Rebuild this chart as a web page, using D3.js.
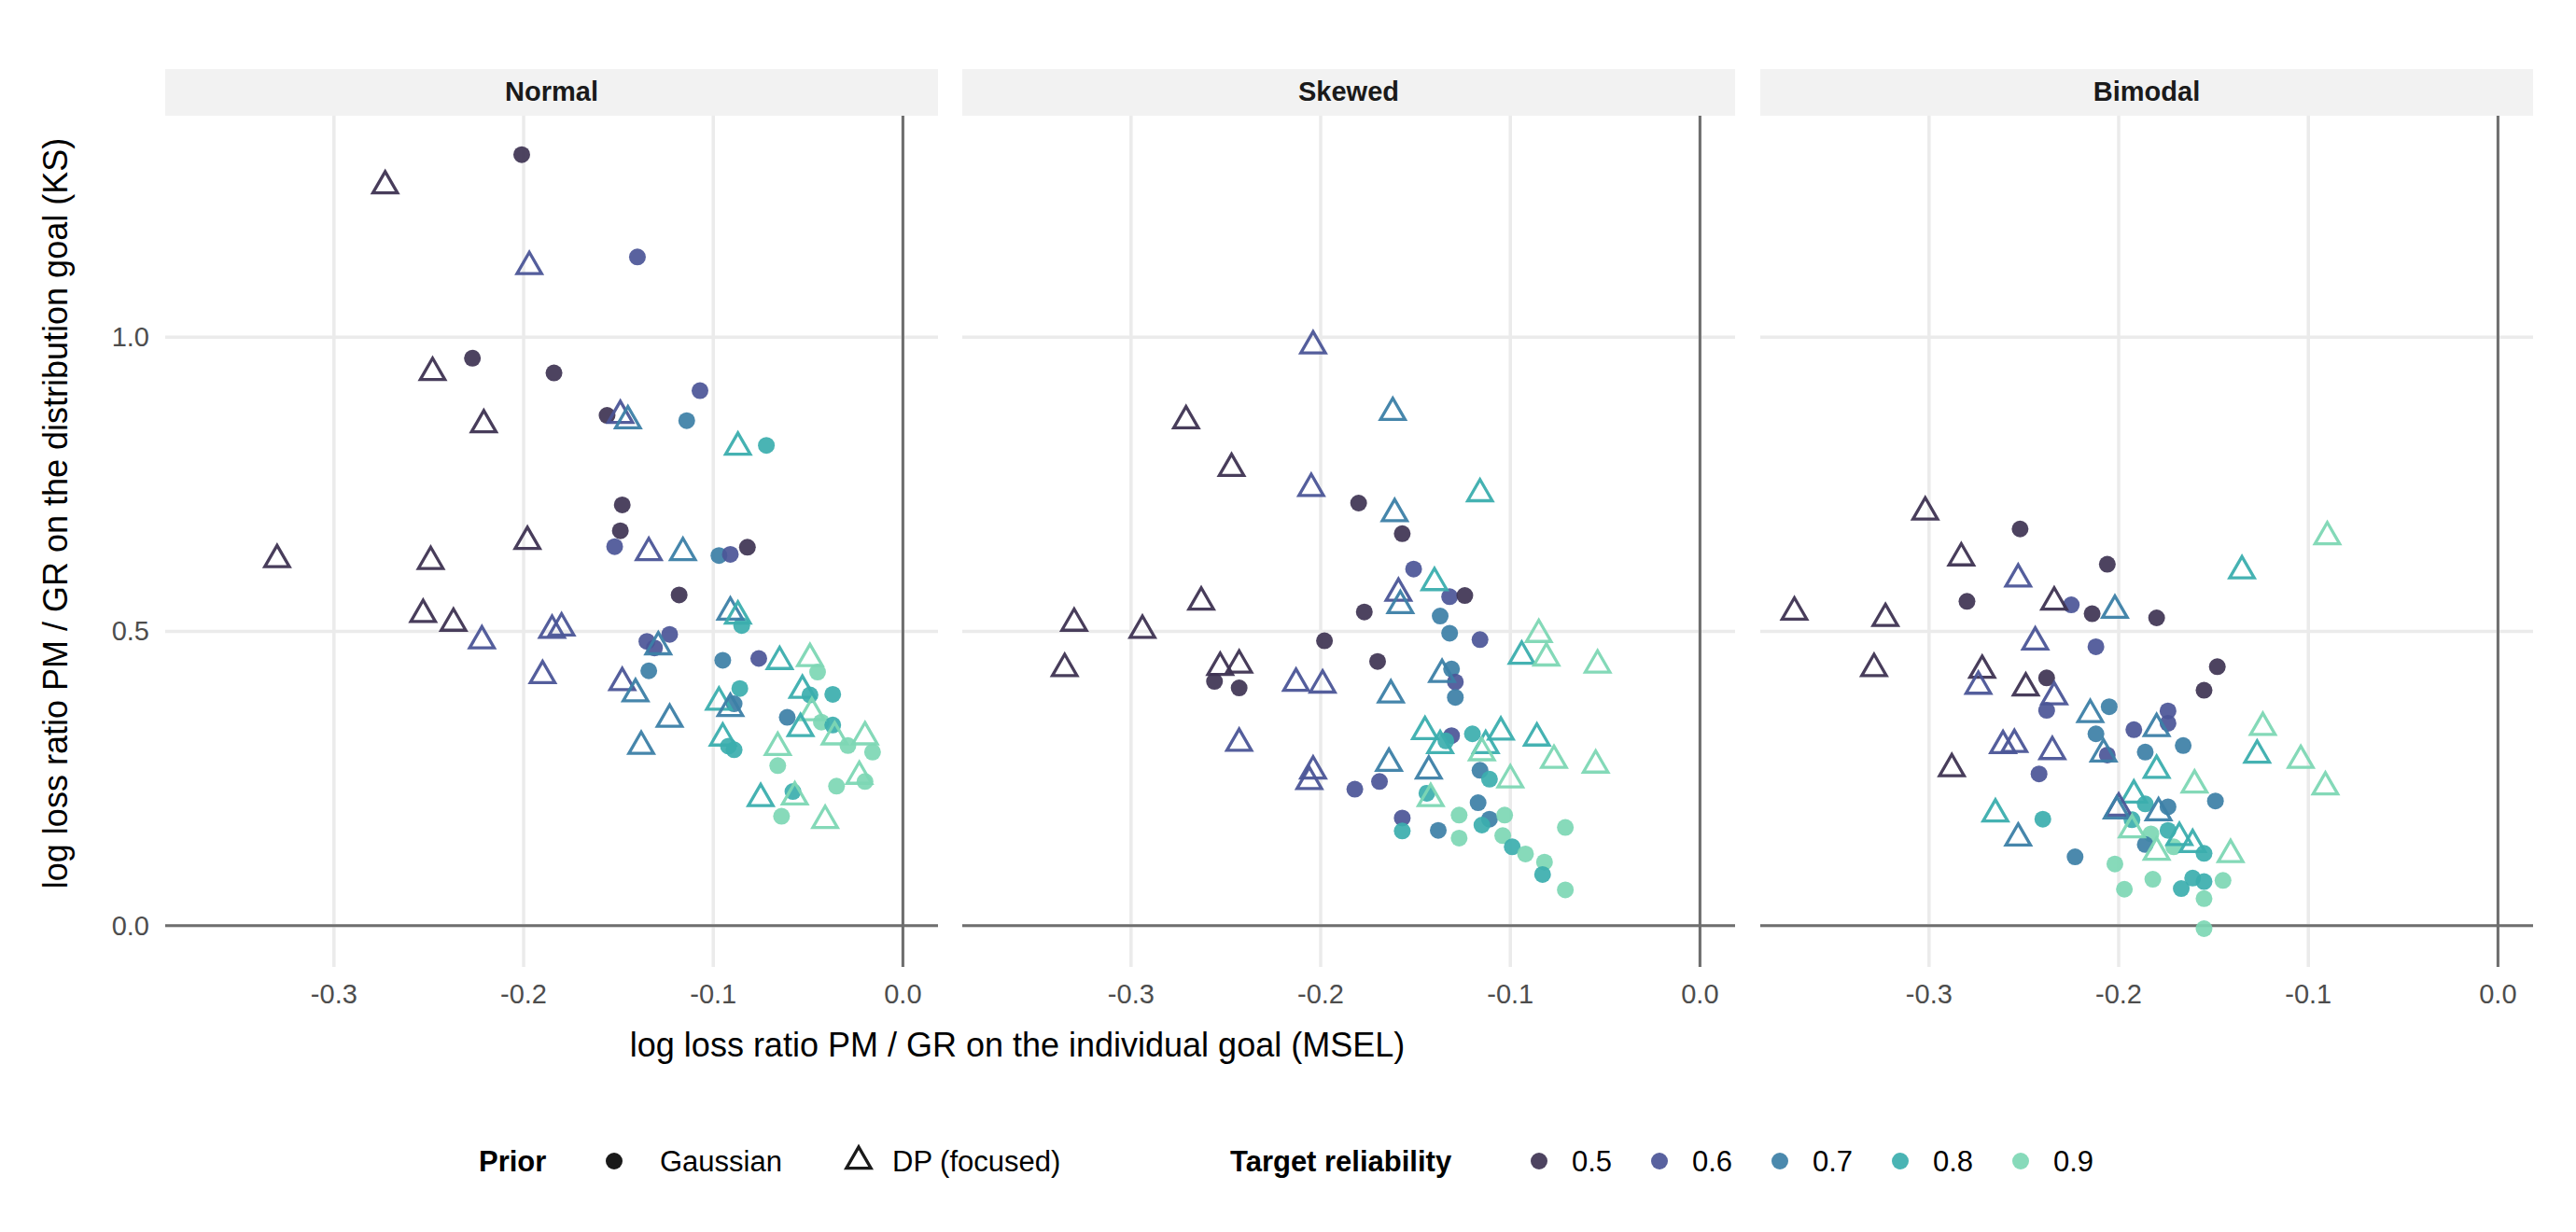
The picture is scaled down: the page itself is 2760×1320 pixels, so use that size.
<!DOCTYPE html>
<html><head><meta charset="utf-8">
<script src="https://cdn.jsdelivr.net/npm/d3@7"></script>
<style>body{margin:0;background:#fff}svg{font-family:"Liberation Sans",Arial,sans-serif}</style>
</head><body><svg id="c" width="2760" height="1320"></svg>
<script>
const panels = ["Normal","Skewed","Bimodal"];
const reliabilities = [0.5,0.6,0.7,0.8,0.9];
const relColors = ["#3E3352","#4B5597","#3C7FA6","#3BAEAE","#7DD7B4"];
const xTicks = [-0.3,-0.2,-0.1,0.0];
const yTicks = [0.0,0.5,1.0];
const priors = ["Gaussian","DP (focused)"];

// [x, y, reliability]
const normalGaussian = [[-0.201,1.310,0.5],[-0.140,1.136,0.6],[-0.227,0.964,0.5],[-0.184,0.939,0.5],[-0.107,0.909,0.6],[-0.156,0.867,0.5],[-0.114,0.858,0.7],[-0.072,0.816,0.8],[-0.148,0.715,0.5],[-0.149,0.671,0.5],[-0.152,0.644,0.6],[-0.097,0.629,0.7],[-0.091,0.631,0.6],[-0.082,0.643,0.5],[-0.118,0.562,0.5],[-0.085,0.510,0.8],[-0.135,0.483,0.6],[-0.123,0.495,0.6],[-0.131,0.472,0.6],[-0.134,0.433,0.7],[-0.095,0.451,0.7],[-0.076,0.454,0.6],[-0.086,0.403,0.8],[-0.089,0.377,0.7],[-0.045,0.431,0.9],[-0.049,0.392,0.8],[-0.037,0.393,0.8],[-0.061,0.354,0.7],[-0.043,0.346,0.9],[-0.037,0.341,0.8],[-0.029,0.306,0.9],[-0.016,0.295,0.9],[-0.092,0.305,0.8],[-0.089,0.299,0.8],[-0.066,0.272,0.9],[-0.020,0.245,0.9],[-0.035,0.237,0.9],[-0.058,0.228,0.8],[-0.064,0.186,0.9]];
const normalDP = [[-0.273,1.257,0.5],[-0.197,1.120,0.6],[-0.248,0.940,0.5],[-0.221,0.851,0.5],[-0.149,0.867,0.6],[-0.145,0.858,0.7],[-0.087,0.813,0.8],[-0.330,0.622,0.5],[-0.249,0.619,0.5],[-0.198,0.653,0.5],[-0.134,0.634,0.6],[-0.116,0.634,0.7],[-0.253,0.529,0.5],[-0.237,0.514,0.5],[-0.222,0.484,0.6],[-0.185,0.502,0.6],[-0.180,0.506,0.6],[-0.091,0.533,0.7],[-0.087,0.526,0.8],[-0.129,0.474,0.7],[-0.190,0.425,0.6],[-0.148,0.413,0.6],[-0.141,0.394,0.7],[-0.065,0.449,0.8],[-0.049,0.454,0.9],[-0.123,0.351,0.7],[-0.138,0.305,0.7],[-0.097,0.380,0.8],[-0.091,0.369,0.7],[-0.053,0.400,0.8],[-0.048,0.362,0.9],[-0.054,0.335,0.8],[-0.095,0.319,0.8],[-0.036,0.321,0.9],[-0.020,0.321,0.9],[-0.066,0.303,0.9],[-0.023,0.254,0.9],[-0.075,0.216,0.8],[-0.057,0.219,0.9],[-0.041,0.179,0.9]];
const skewedGaussian = [[-0.180,0.718,0.5],[-0.157,0.666,0.5],[-0.151,0.606,0.6],[-0.132,0.559,0.6],[-0.124,0.561,0.5],[-0.177,0.533,0.5],[-0.137,0.526,0.7],[-0.132,0.497,0.7],[-0.116,0.486,0.6],[-0.198,0.484,0.5],[-0.170,0.449,0.5],[-0.256,0.415,0.5],[-0.243,0.404,0.5],[-0.131,0.436,0.7],[-0.129,0.414,0.6],[-0.129,0.388,0.7],[-0.131,0.323,0.6],[-0.134,0.314,0.8],[-0.120,0.326,0.8],[-0.116,0.264,0.7],[-0.111,0.249,0.8],[-0.144,0.225,0.8],[-0.169,0.245,0.6],[-0.182,0.232,0.6],[-0.157,0.183,0.6],[-0.157,0.161,0.8],[-0.138,0.162,0.7],[-0.127,0.188,0.9],[-0.127,0.149,0.9],[-0.117,0.209,0.7],[-0.111,0.181,0.7],[-0.115,0.171,0.8],[-0.103,0.188,0.9],[-0.104,0.153,0.9],[-0.099,0.134,0.8],[-0.092,0.122,0.9],[-0.082,0.108,0.9],[-0.083,0.087,0.8],[-0.071,0.167,0.9],[-0.071,0.061,0.9]];
const skewedDP = [[-0.204,0.985,0.6],[-0.271,0.858,0.5],[-0.162,0.872,0.7],[-0.247,0.777,0.5],[-0.205,0.743,0.6],[-0.161,0.700,0.7],[-0.116,0.734,0.8],[-0.140,0.583,0.8],[-0.159,0.565,0.6],[-0.158,0.544,0.7],[-0.263,0.550,0.5],[-0.330,0.514,0.5],[-0.294,0.502,0.5],[-0.335,0.437,0.5],[-0.253,0.439,0.5],[-0.243,0.443,0.5],[-0.213,0.412,0.6],[-0.199,0.409,0.6],[-0.163,0.392,0.7],[-0.136,0.427,0.7],[-0.085,0.495,0.9],[-0.094,0.458,0.8],[-0.081,0.455,0.9],[-0.054,0.443,0.9],[-0.243,0.310,0.6],[-0.145,0.330,0.8],[-0.137,0.306,0.8],[-0.105,0.329,0.8],[-0.113,0.306,0.8],[-0.115,0.294,0.9],[-0.086,0.319,0.8],[-0.077,0.281,0.9],[-0.055,0.273,0.9],[-0.164,0.276,0.7],[-0.143,0.263,0.7],[-0.100,0.248,0.9],[-0.204,0.263,0.6],[-0.206,0.245,0.6],[-0.142,0.216,0.9]];
const bimodalGaussian = [[-0.252,0.674,0.5],[-0.206,0.614,0.5],[-0.280,0.551,0.5],[-0.225,0.545,0.6],[-0.214,0.530,0.5],[-0.180,0.523,0.5],[-0.212,0.474,0.6],[-0.148,0.440,0.5],[-0.155,0.400,0.5],[-0.238,0.421,0.5],[-0.238,0.366,0.6],[-0.205,0.372,0.7],[-0.174,0.365,0.6],[-0.174,0.344,0.6],[-0.192,0.333,0.6],[-0.212,0.326,0.7],[-0.166,0.306,0.7],[-0.186,0.295,0.7],[-0.206,0.290,0.6],[-0.242,0.258,0.6],[-0.149,0.212,0.7],[-0.174,0.202,0.7],[-0.186,0.207,0.8],[-0.193,0.180,0.8],[-0.240,0.181,0.8],[-0.174,0.162,0.8],[-0.183,0.156,0.9],[-0.186,0.138,0.7],[-0.171,0.134,0.9],[-0.155,0.123,0.8],[-0.223,0.117,0.7],[-0.202,0.105,0.9],[-0.182,0.079,0.9],[-0.197,0.062,0.9],[-0.161,0.081,0.8],[-0.155,0.075,0.8],[-0.167,0.063,0.8],[-0.145,0.077,0.9],[-0.155,0.046,0.9],[-0.155,-0.005,0.9]];
const bimodalDP = [[-0.302,0.703,0.5],[-0.371,0.533,0.5],[-0.323,0.522,0.5],[-0.283,0.625,0.5],[-0.253,0.589,0.6],[-0.234,0.550,0.5],[-0.202,0.536,0.7],[-0.090,0.661,0.9],[-0.135,0.603,0.8],[-0.244,0.482,0.6],[-0.329,0.437,0.5],[-0.272,0.434,0.5],[-0.274,0.407,0.6],[-0.249,0.404,0.5],[-0.234,0.389,0.6],[-0.215,0.359,0.7],[-0.180,0.335,0.7],[-0.261,0.306,0.6],[-0.255,0.308,0.6],[-0.235,0.296,0.6],[-0.208,0.292,0.7],[-0.288,0.267,0.5],[-0.180,0.264,0.8],[-0.124,0.337,0.9],[-0.127,0.290,0.8],[-0.104,0.281,0.9],[-0.091,0.236,0.9],[-0.160,0.239,0.9],[-0.265,0.190,0.8],[-0.253,0.149,0.7],[-0.192,0.222,0.8],[-0.200,0.200,0.6],[-0.201,0.195,0.7],[-0.179,0.192,0.7],[-0.193,0.163,0.9],[-0.168,0.150,0.8],[-0.161,0.138,0.8],[-0.180,0.125,0.9],[-0.141,0.121,0.9]];

const gaussianByPanel = [normalGaussian, skewedGaussian, bimodalGaussian];
const dpByPanel = [normalDP, skewedDP, bimodalDP];

const svg = d3.select("#c");
const color = d3.scaleOrdinal().domain(reliabilities).range(relColors);
const panelX = [177, 1031, 1886], panelW = 828;
const plotTop = 124, plotBottom = 1036;
const y = d3.scaleLinear().domain([-0.07, 1.376]).range([plotBottom, plotTop]);
const tri = d3.symbol().type(d3.symbolTriangle).size(300);

panels.forEach((name, i) => {
  const x = d3.scaleLinear().domain([-0.389, 0.0185]).range([panelX[i], panelX[i] + panelW]);
  const g = svg.append("g");
  g.append("rect").attr("x", panelX[i]).attr("y", 74).attr("width", panelW).attr("height", 50).attr("fill", "#f2f2f2");
  g.append("text").attr("x", panelX[i] + panelW / 2).attr("y", 108).attr("text-anchor", "middle")
    .attr("font-size", 29).attr("font-weight", "bold").attr("fill", "#1a1a1a").text(name);
  g.selectAll(".gx").data(xTicks).enter().append("line").attr("x1", d => x(d)).attr("x2", d => x(d))
    .attr("y1", plotTop).attr("y2", plotBottom).attr("stroke", "#ebebeb").attr("stroke-width", 3.5);
  g.selectAll(".gy").data(yTicks).enter().append("line").attr("y1", d => y(d)).attr("y2", d => y(d))
    .attr("x1", panelX[i]).attr("x2", panelX[i] + panelW).attr("stroke", "#ebebeb").attr("stroke-width", 3.5);
  g.append("line").attr("x1", x(0)).attr("x2", x(0)).attr("y1", plotTop).attr("y2", plotBottom).attr("stroke", "#6e6e6e").attr("stroke-width", 3);
  g.append("line").attr("y1", y(0)).attr("y2", y(0)).attr("x1", panelX[i]).attr("x2", panelX[i] + panelW).attr("stroke", "#6e6e6e").attr("stroke-width", 3);
  g.selectAll(".xl").data(xTicks).enter().append("text").attr("x", d => x(d)).attr("y", 1075)
    .attr("text-anchor", "middle").attr("font-size", 29).attr("fill", "#4d4d4d").text(d => d3.format(".1f")(d).replace("−","-"));
  if (i === 0) {
    g.selectAll(".yl").data(yTicks).enter().append("text").attr("x", 160).attr("y", d => y(d) + 10)
      .attr("text-anchor", "end").attr("font-size", 29).attr("fill", "#4d4d4d").text(d => d3.format(".1f")(d));
  }
  g.selectAll(".pt").data(gaussianByPanel[i]).enter().append("circle")
    .attr("cx", d => x(d[0])).attr("cy", d => y(d[1])).attr("r", 9)
    .attr("fill", d => color(d[2])).attr("fill-opacity", 0.92);
  g.selectAll(".tr").data(dpByPanel[i]).enter().append("path")
    .attr("d", tri).attr("transform", d => `translate(${x(d[0])},${y(d[1])})`)
    .attr("fill", "none").attr("stroke", d => color(d[2])).attr("stroke-width", 3.3).attr("stroke-opacity", 0.95);
});

svg.append("text").attr("x", 1090).attr("y", 1132).attr("text-anchor", "middle").attr("font-size", 36).attr("fill", "#000")
  .text("log loss ratio PM / GR on the individual goal (MSEL)");
svg.append("text").attr("transform", `translate(72,${(plotTop + plotBottom) / 2 - 30}) rotate(-90)`).attr("text-anchor", "middle")
  .attr("font-size", 36).attr("fill", "#000").text("log loss ratio PM / GR on the distribution goal (KS)");

const ly = 1244;
const lg = svg.append("g").attr("font-size", 31);
lg.append("text").attr("x", 513).attr("y", ly + 11).attr("font-weight", "bold").text("Prior");
lg.append("circle").attr("cx", 658).attr("cy", ly).attr("r", 9).attr("fill", "#1a1a1a");
lg.append("text").attr("x", 707).attr("y", ly + 11).text(priors[0]);
lg.append("path").attr("d", tri).attr("transform", `translate(920,${ly})`).attr("fill", "none").attr("stroke", "#1a1a1a").attr("stroke-width", 3.3);
lg.append("text").attr("x", 956).attr("y", ly + 11).text(priors[1]);
lg.append("text").attr("x", 1318).attr("y", ly + 11).attr("font-weight", "bold").text("Target reliability");
reliabilities.forEach((r, k) => {
  const cx = 1649 + k * 129;
  lg.append("circle").attr("cx", cx).attr("cy", ly).attr("r", 9).attr("fill", color(r)).attr("fill-opacity", 0.92);
  lg.append("text").attr("x", cx + 35).attr("y", ly + 11).text(d3.format(".1f")(r));
});
</script></body></html>
